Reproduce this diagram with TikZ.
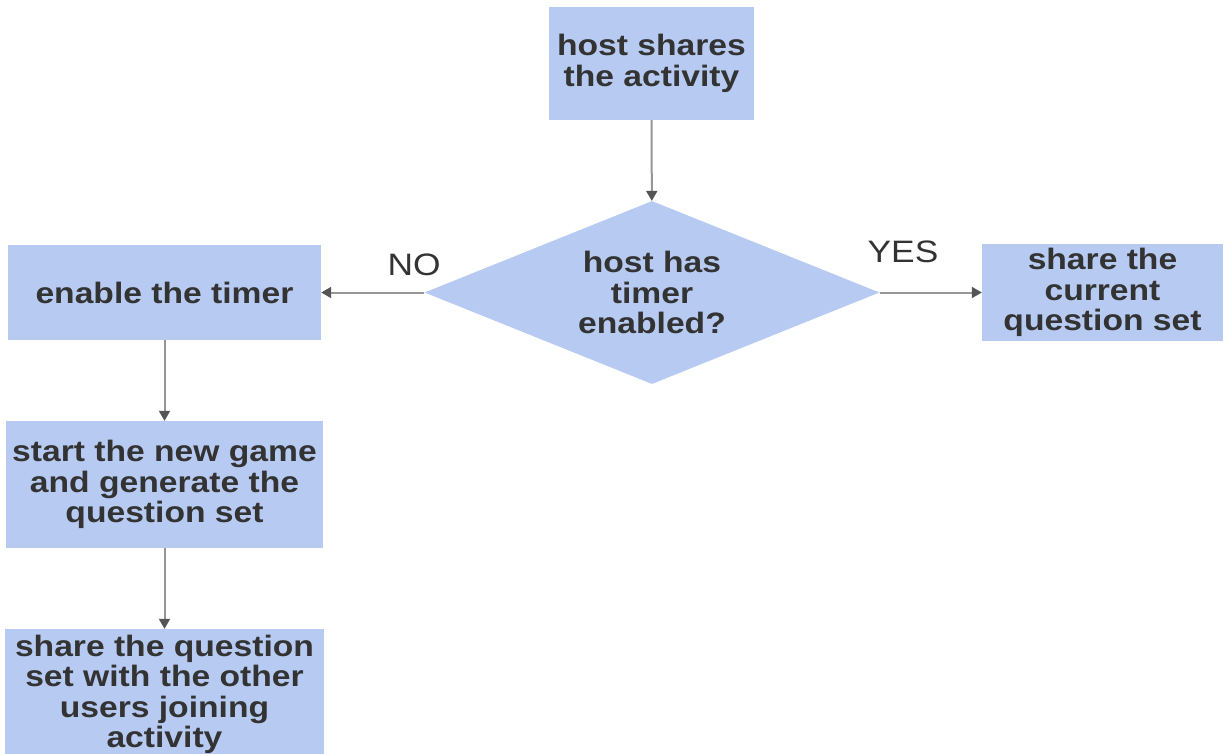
\documentclass[tikz,border=0pt]{standalone}
\usepackage{fontspec}
\setmainfont{Liberation Sans}
\newfontfamily\flowfont[FakeStretch=1.14]{Liberation Sans}
\usetikzlibrary{shapes.geometric, arrows.meta}
\definecolor{boxblue}{RGB}{183,203,242}
\definecolor{textgray}{RGB}{51,51,51}
\definecolor{linegray}{RGB}{150,150,150}
\definecolor{tipgray}{RGB}{85,85,85}
\tikzset{
  stepbox/.style={rectangle, fill=boxblue, text=textgray, align=center,
    inner sep=0pt, font=\flowfont\bfseries\fontsize{29.5}{30.5}\selectfont},
  decision/.style={diamond, aspect=2.5, fill=boxblue, text=textgray, align=center,
    inner sep=0pt, minimum width=455pt, minimum height=183pt,
    font=\flowfont\bfseries\fontsize{29.5}{30.5}\selectfont},
  answer/.style={text=textgray, font=\flowfont\fontsize{31}{31}\selectfont},
  link/.style={draw=linegray, line width=2pt,
    -{Triangle[length=10pt,width=11pt,color=tipgray]}}
}
\begin{document}
\begin{tikzpicture}[x=1pt,y=-1pt]
\clip (0,0) rectangle (1225,754);
% boxes
\node[stepbox, minimum width=205pt, minimum height=113pt] (host) at (651.5,63.5) {host shares\\the activity};
\node[decision] (timerq) at (652,292.5) {host has\\timer\\enabled?};
\node[stepbox, minimum width=313pt, minimum height=95pt] (enable) at (164.5,292.5) {enable the timer};
\node[stepbox, minimum width=241pt, minimum height=97pt] (current) at (1102.5,292.5) {share the\\current\\question set};
\node[stepbox, minimum width=317pt, minimum height=127pt] (newgame) at (164.5,484.5) {start the new game\\and generate the\\question set};
\node[stepbox, minimum width=319pt, minimum height=131pt] (shareset) at (164.5,694.5) {share the question\\set with the other\\users joining\\activity};
% answers
\node[answer] (no) at (414,265) {NO};
\node[answer] (yes) at (903,252) {YES};
% arrows
\draw[link] (host) -- (timerq);
\draw[link] (timerq) -- (enable);
\draw[link] (timerq) -- (current);
\draw[link] (enable) -- (newgame);
\draw[link] (newgame) -- (shareset);
\end{tikzpicture}
\end{document}
